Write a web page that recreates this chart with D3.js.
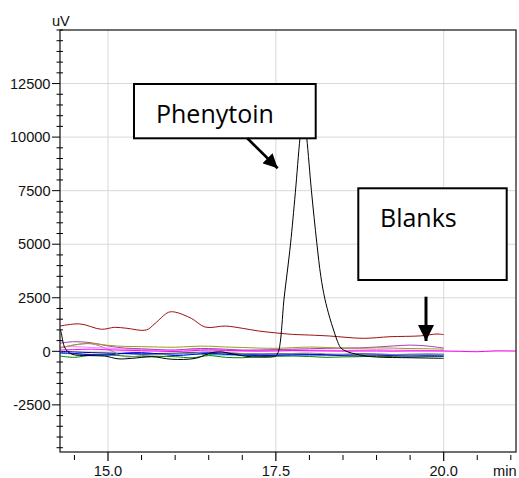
<!DOCTYPE html>
<html><head><meta charset="utf-8">
<script src="https://cdn.jsdelivr.net/npm/d3@7"></script>
<style>body{margin:0;background:#fff}svg{display:block}</style>
</head><body>
<svg id="c" width="519" height="478"></svg>
<script>
// ---- data ----
const yMajorTicks = [-2500, 0, 2500, 5000, 7500, 10000, 12500];
const xMajorTicks = [15.0, 17.5, 20.0];
const xTickLabels = ["15.0", "17.5", "20.0"];
const xUnit = "min", yUnit = "uV";

// Phenytoin sample (black)
const phenX = [14.285,14.30,14.36,14.46,14.70,14.95,15.15,15.35,15.65,15.95,16.30,16.55,16.70,16.85,17.05,17.25,17.45,17.50,17.54,17.565,17.59,17.62,17.67,17.72,17.79,17.86,17.91,17.96,18.03,18.11,18.17,18.23,18.30,18.36,18.42,18.47,18.55,18.63,18.80,19.00,19.50,20.00];
const phenY = [1000,900,150,-130,-200,-220,-350,-330,-250,-370,-330,-60,-30,-120,-230,-270,-260,-220,0,400,1200,2400,3700,5060,7400,9970,11300,9970,7500,5060,3500,2450,1600,995,450,150,0,-80,-200,-266,-300,-327];

// Blank with bump (dark red)
const redX = [14.285,14.58,14.90,15.10,15.28,15.57,15.70,15.90,16.00,16.24,16.45,16.75,17.00,17.24,17.50,17.75,18.00,18.30,18.80,19.20,19.65,19.90,20.00];
const redY = [1180,1280,1030,1120,1075,995,1300,1820,1830,1540,1130,1180,1075,950,860,790,760,715,607,682,720,808,780];

// Other blanks share this time grid
const blankX = [14.285,14.5,14.75,15.0,15.25,15.5,15.75,16.0,16.25,16.5,16.75,17.0,17.25,17.5,17.75,18.0,18.25,18.5,18.75,19.0,19.25,19.5,19.75,20.0];
const olive  = [150,300,370,280,230,220,200,190,230,240,200,180,150,140,170,200,180,150,140,160,150,130,120,100];
const purple = [380,450,400,250,150,120,80,60,120,130,100,60,60,80,100,120,140,150,160,200,250,290,250,150];
const pink   = [200,220,180,150,100,80,60,50,80,90,60,40,50,60,70,60,50,40,60,80,60,50,40,30];
const gray   = [150,300,350,100,-250,-200,-150,-120,-80,-30,-50,-100,-120,-130,-100,-80,-120,-150,-180,-170,-150,-160,-150,-150];
const blue   = [-60,-100,-160,-170,-80,-60,-120,-200,-150,-90,-140,-180,-200,-190,-170,-160,-180,-200,-210,-190,-200,-220,-210,-220];
const navy   = [0,-30,-60,-80,-100,-120,-100,-90,-60,-50,-80,-110,-130,-120,-110,-130,-150,-140,-120,-130,-150,-140,-130,-140];
const green  = [-220,-280,-180,-170,-220,-260,-240,-250,-300,-200,-280,-300,-250,-230,-220,-240,-280,-260,-250,-230,-250,-270,-250,-240];
const teal   = [-100,-120,-150,-130,-110,-140,-160,-130,-120,-150,-170,-160,-140,-150,-160,-170,-150,-160,-180,-170,-160,-170,-180,-170];
// magenta runs past 20 min
const magX = [14.285,14.5,14.75,15.0,15.25,15.5,15.75,16.0,16.25,16.5,16.75,17.0,17.25,17.5,17.75,18.0,18.25,18.5,18.75,19.0,19.25,19.5,19.75,20.0,20.25,20.5,20.75,21.08];
const magY = [60,80,100,70,50,30,10,-10,30,60,40,20,10,20,40,30,20,10,20,20,10,20,20,15,0,-20,20,15];

const annotations = ["Phenytoin", "Blanks"];

// ---- layout ----
const svg = d3.select("#c");
const L = 60, R = 516, T = 30, B = 452;
const x = d3.scaleLinear().domain([14.285, 21.077]).range([L, R]);
const y = d3.scaleLinear().domain([-4700, 15000]).range([B, T]);
const FONT = "Liberation Sans, Arial, sans-serif";

// grid
svg.append("g").selectAll("line").data(yMajorTicks).join("line")
  .attr("x1", L).attr("x2", R).attr("y1", d => y(d)).attr("y2", d => y(d))
  .attr("stroke", "#d8d8d8").attr("stroke-width", 1);
svg.append("g").selectAll("line").data(xMajorTicks).join("line")
  .attr("y1", T).attr("y2", B).attr("x1", d => x(d)).attr("x2", d => x(d))
  .attr("stroke", "#d8d8d8").attr("stroke-width", 1);

// traces
svg.append("clipPath").attr("id", "clip").append("rect")
  .attr("x", L).attr("y", T).attr("width", R - L).attr("height", B - T);
const g = svg.append("g").attr("clip-path", "url(#clip)");
const line = (xs, curve) => d3.line().x((d, i) => x(xs[i])).y(d => y(d)).curve(curve);
const blanks = [
  [teal, "#00a0a0"], [green, "#008000"], [navy, "#000080"], [blue, "#0000ff"],
  [gray, "#8c8c8c"], [pink, "#ff80ff"], [purple, "#a040c0"], [olive, "#a09a20"]
];
blanks.forEach(([vals, col]) => {
  g.append("path").datum(vals).attr("d", line(blankX, d3.curveCatmullRom))
    .attr("fill", "none").attr("stroke", col).attr("stroke-width", 1);
});
g.append("path").datum(magY).attr("d", line(magX, d3.curveCatmullRom))
  .attr("fill", "none").attr("stroke", "#ff00ff").attr("stroke-width", 1);
g.append("path").datum(redY).attr("d", line(redX, d3.curveCatmullRom))
  .attr("fill", "none").attr("stroke", "#a01010").attr("stroke-width", 1);
g.append("path").datum(phenY).attr("d", line(phenX, d3.curveCatmullRom.alpha(0.5)))
  .attr("fill", "none").attr("stroke", "#000").attr("stroke-width", 1);

// frame
svg.append("rect").attr("x", L).attr("y", T).attr("width", R - L).attr("height", B - T)
  .attr("fill", "none").attr("stroke", "#222").attr("stroke-width", 1.3);

// y ticks
const yMinor = d3.range(-4500, 15001, 500).filter(v => !yMajorTicks.includes(v));
svg.append("g").selectAll("line").data(yMinor).join("line")
  .attr("x1", L - 3.5).attr("x2", L + 3).attr("y1", d => y(d)).attr("y2", d => y(d))
  .attr("stroke", "#000").attr("stroke-width", 1);
svg.append("g").selectAll("line").data(yMajorTicks).join("line")
  .attr("x1", L - 8).attr("x2", L).attr("y1", d => y(d)).attr("y2", d => y(d))
  .attr("stroke", "#000").attr("stroke-width", 1);
svg.append("g").selectAll("text").data(yMajorTicks).join("text")
  .attr("x", L - 9.5).attr("y", d => y(d) + 5.2).attr("text-anchor", "end")
  .attr("font-family", FONT).attr("font-size", 14.6)
  .attr("fill", "#111").text(d => d);

// x ticks
const xMinor = d3.range(14.5, 21.01, 0.5).filter(v => !xMajorTicks.some(m => Math.abs(m - v) < 1e-6));
svg.append("g").selectAll("line").data(xMinor).join("line")
  .attr("x1", d => x(d)).attr("x2", d => x(d)).attr("y1", B + 3).attr("y2", B + 8)
  .attr("stroke", "#000").attr("stroke-width", 1);
svg.append("g").selectAll("line").data(xMajorTicks).join("line")
  .attr("x1", d => x(d)).attr("x2", d => x(d)).attr("y1", B).attr("y2", B + 9)
  .attr("stroke", "#000").attr("stroke-width", 1.2);
svg.append("g").selectAll("text").data(xMajorTicks).join("text")
  .attr("x", d => x(d)).attr("y", 476).attr("text-anchor", "middle")
  .attr("font-family", FONT).attr("font-size", 14.6)
  .attr("fill", "#111").text((d, i) => xTickLabels[i]);
svg.append("text").attr("x", 493).attr("y", 476)
  .attr("font-family", FONT).attr("font-size", 14.6)
  .attr("fill", "#111").text(xUnit);
svg.append("text").attr("x", 52).attr("y", 26)
  .attr("font-family", FONT).attr("font-size", 14.6)
  .attr("fill", "#111").text(yUnit);

// annotations
svg.append("defs").append("marker").attr("id", "ah").attr("viewBox", "0 0 10 10")
  .attr("refX", 10).attr("refY", 5).attr("markerWidth", 5.5).attr("markerHeight", 5.5)
  .attr("markerUnits", "strokeWidth").attr("orient", "auto")
  .append("path").attr("d", "M0,0 L10,5 L0,10 Z").attr("fill", "#000");

svg.append("rect").attr("x", 134).attr("y", 84).attr("width", 181.7).attr("height", 54.3)
  .attr("fill", "#fff").attr("stroke", "#000").attr("stroke-width", 2);
svg.append("text").attr("x", 156).attr("y", 123.3)
  .attr("font-family", "Open Sans, sans-serif").attr("font-size", 25).attr("fill", "#000")
  .text(annotations[0]);
svg.append("line").attr("x1", 247.3).attr("y1", 138.3).attr("x2", 277.7).attr("y2", 168.3)
  .attr("stroke", "#000").attr("stroke-width", 2.6).attr("marker-end", "url(#ah)");

svg.append("rect").attr("x", 358.3).attr("y", 188.3).attr("width", 148.4).attr("height", 91.7)
  .attr("fill", "#fff").attr("stroke", "#000").attr("stroke-width", 2);
svg.append("text").attr("x", 380).attr("y", 226.7)
  .attr("font-family", "Open Sans, sans-serif").attr("font-size", 25).attr("fill", "#000")
  .text(annotations[1]);
svg.append("line").attr("x1", 426).attr("y1", 296.7).attr("x2", 426).attr("y2", 341)
  .attr("stroke", "#000").attr("stroke-width", 3).attr("marker-end", "url(#ah)");
</script>
</body></html>
